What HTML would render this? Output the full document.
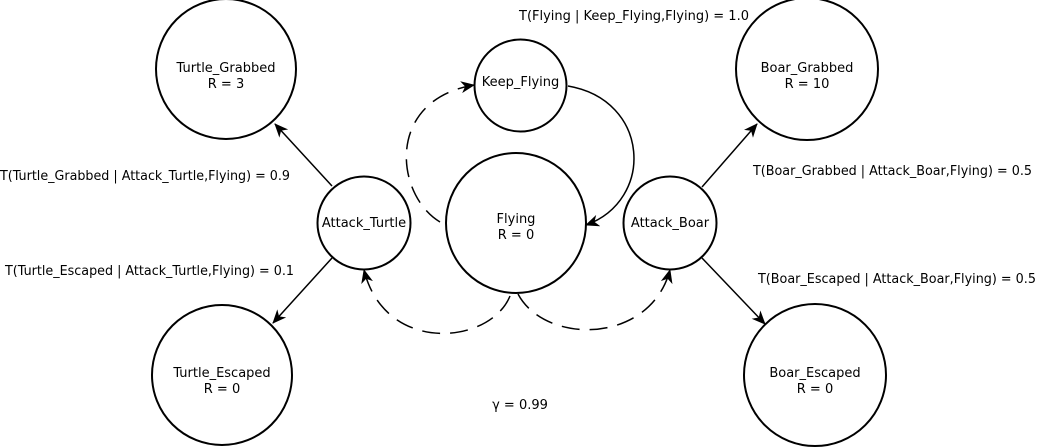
<!DOCTYPE html>
<html><head><meta charset="utf-8"><style>
html,body{margin:0;padding:0;background:#fff;}
svg{display:block;font-family:"DejaVu Sans","Liberation Sans",sans-serif;font-size:13px;}
</style></head><body>
<svg width="1038" height="448" viewBox="0 0 1038 448" xmlns="http://www.w3.org/2000/svg">
<defs>
<marker id="a" markerWidth="14" markerHeight="12" refX="13" refY="6" orient="auto" markerUnits="userSpaceOnUse">
<path d="M0,0 L14,6 L0,12 L4,6 Z" fill="#000"/>
</marker>
</defs>
<g fill="none" stroke="#000" stroke-width="2">
<circle cx="226" cy="69" r="70"/>
<circle cx="222" cy="375" r="70"/>
<circle cx="807" cy="69" r="71"/>
<circle cx="815" cy="375" r="71"/>
<circle cx="520.5" cy="85.5" r="46"/>
<circle cx="516" cy="223" r="70"/>
<circle cx="364" cy="223" r="46.5"/>
<circle cx="670" cy="223" r="46.5"/>
</g>
<g fill="none" stroke="#000" stroke-width="1.5" marker-end="url(#a)">
<path d="M332,186 L275,124"/>
<path d="M332,258 L273,323"/>
<path d="M702,187 L757,124"/>
<path d="M702,258 L765,324"/>
<path d="M568,86 C650,100 655,200 586,225"/>
<path d="M440,222 C395,195 385,100 474,85" stroke-dasharray="18,10"/>
<path d="M510,296 C490,345 385,355 364,270" stroke-dasharray="18,10"/>
<path d="M518,294 C545,345 650,345 670,270" stroke-dasharray="18,10"/>
</g>
<g fill="#000" text-anchor="middle">
<text x="226" y="72">Turtle_Grabbed</text><text x="226" y="88">R = 3</text>
<text x="222" y="377">Turtle_Escaped</text><text x="222" y="393">R = 0</text>
<text x="807" y="72">Boar_Grabbed</text><text x="807" y="88">R = 10</text>
<text x="815" y="377">Boar_Escaped</text><text x="815" y="393">R = 0</text>
<text x="520.5" y="86">Keep_Flying</text>
<text x="516" y="223">Flying</text><text x="516" y="239">R = 0</text>
<text x="364" y="227">Attack_Turtle</text>
<text x="670" y="227">Attack_Boar</text>
<text x="634" y="20">T(Flying | Keep_Flying,Flying) = 1.0</text>
<text x="520" y="409">γ = 0.99</text>
</g>
<g fill="#000">
<text x="0" y="180" textLength="290" lengthAdjust="spacingAndGlyphs">T(Turtle_Grabbed | Attack_Turtle,Flying) = 0.9</text>
<text x="5" y="275" textLength="289" lengthAdjust="spacingAndGlyphs">T(Turtle_Escaped | Attack_Turtle,Flying) = 0.1</text>
<text x="753" y="175" textLength="279" lengthAdjust="spacingAndGlyphs">T(Boar_Grabbed | Attack_Boar,Flying) = 0.5</text>
<text x="758" y="283" textLength="278" lengthAdjust="spacingAndGlyphs">T(Boar_Escaped | Attack_Boar,Flying) = 0.5</text>
</g>
</svg>
</body></html>
